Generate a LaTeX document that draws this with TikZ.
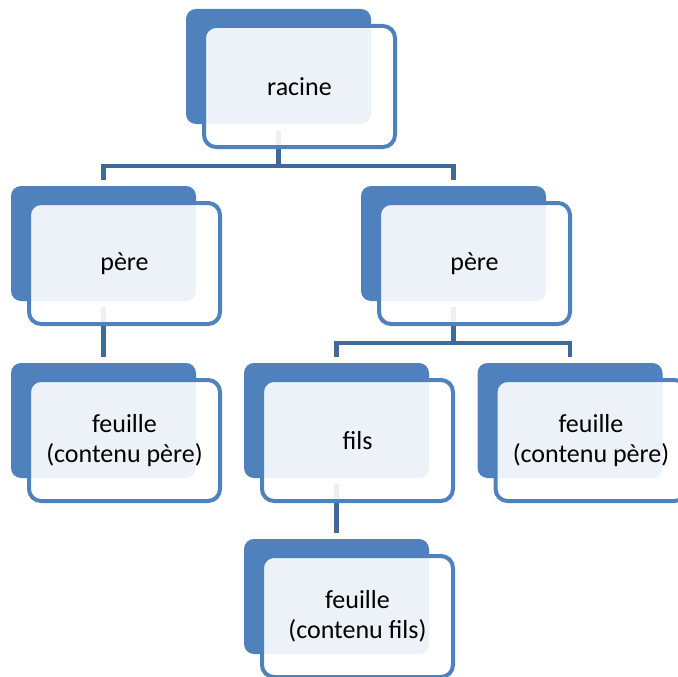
\documentclass[tikz,border=0pt]{standalone}
\usepackage{fontspec}
\setmainfont{Carlito}
\usepackage{tikz}
\newcommand{\dx}{21}
\newcommand{\dy}{20}
\definecolor{bleuart}{RGB}{79,129,189}
\definecolor{bleulien}{RGB}{64,104,153}
\tikzstyle{fond}=[fill=bleuart,rounded corners=10pt,minimum width=185pt,minimum height=115pt,inner sep=0pt]
\tikzstyle{cadre}=[draw=bleuart,line width=4pt,fill=white,fill opacity=0.9,text opacity=1,rounded corners=12pt,minimum width=191pt,minimum height=121pt,inner sep=0pt,align=center,font=\fontsize{26}{30}\selectfont]
\tikzstyle{lien}=[draw=bleulien,line width=4.5pt]

\begin{document}
\begin{tikzpicture}[x=1pt,y=-1pt]

\useasboundingbox (0,0) rectangle (678,677);
\clip (0,0) rectangle (678,677);

% blocs du fond
\node[fond] (racine) at (278.5,66.5) {};
\node[fond] (pereG) at (103.5,243.5) {};
\node[fond] (pereD) at (453.5,243.5) {};
\node[fond] (feuilleG) at (103.5,420.5) {};
\node[fond] (fils) at (336.5,420.5) {};
\node[fond] (feuilleD) at (570,420.5) {};
\node[fond] (feuilleF) at (336.5,596.5) {};

% liens
\coordinate (b1) at ([shift={(0,42)}]racine.south);
\coordinate (b2) at ([shift={(0,42)}]pereD.south);
\draw[lien] ([shift={(0,7)}]racine.south) -- (b1);
\draw[lien] ([shift={(0,-6)}]pereG.north) |- (b1) -| ([shift={(0,-6)}]pereD.north);
\draw[lien] ([shift={(0,6)}]pereG.south) -- ([shift={(0,-6)}]feuilleG.north);
\draw[lien] ([shift={(0,6)}]pereD.south) -- (b2);
\draw[lien] ([shift={(0,-6)}]fils.north) |- (b2) -| ([shift={(0,-6)}]feuilleD.north);
\draw[lien] ([shift={(0,6)}]fils.south) -- ([shift={(0,-6)}]feuilleF.north);

% cadres devant
\node[cadre] (racine-t) at ([shift={(\dx,\dy)}]racine.center) {racine};
\node[cadre] (pereG-t) at ([shift={(\dx,\dy)}]pereG.center) {père};
\node[cadre] (pereD-t) at ([shift={(\dx,\dy)}]pereD.center) {père};
\node[cadre] (feuilleG-t) at ([shift={(\dx,\dy)}]feuilleG.center) {feuille\\(contenu père)};
\node[cadre] (fils-t) at ([shift={(\dx,\dy)}]fils.center) {fils};
\node[cadre] (feuilleD-t) at ([shift={(\dx,\dy)}]feuilleD.center) {feuille\\(contenu père)};
\node[cadre] (feuilleF-t) at ([shift={(\dx,\dy)}]feuilleF.center) {feuille\\(contenu fils)};

\end{tikzpicture}
\end{document}
